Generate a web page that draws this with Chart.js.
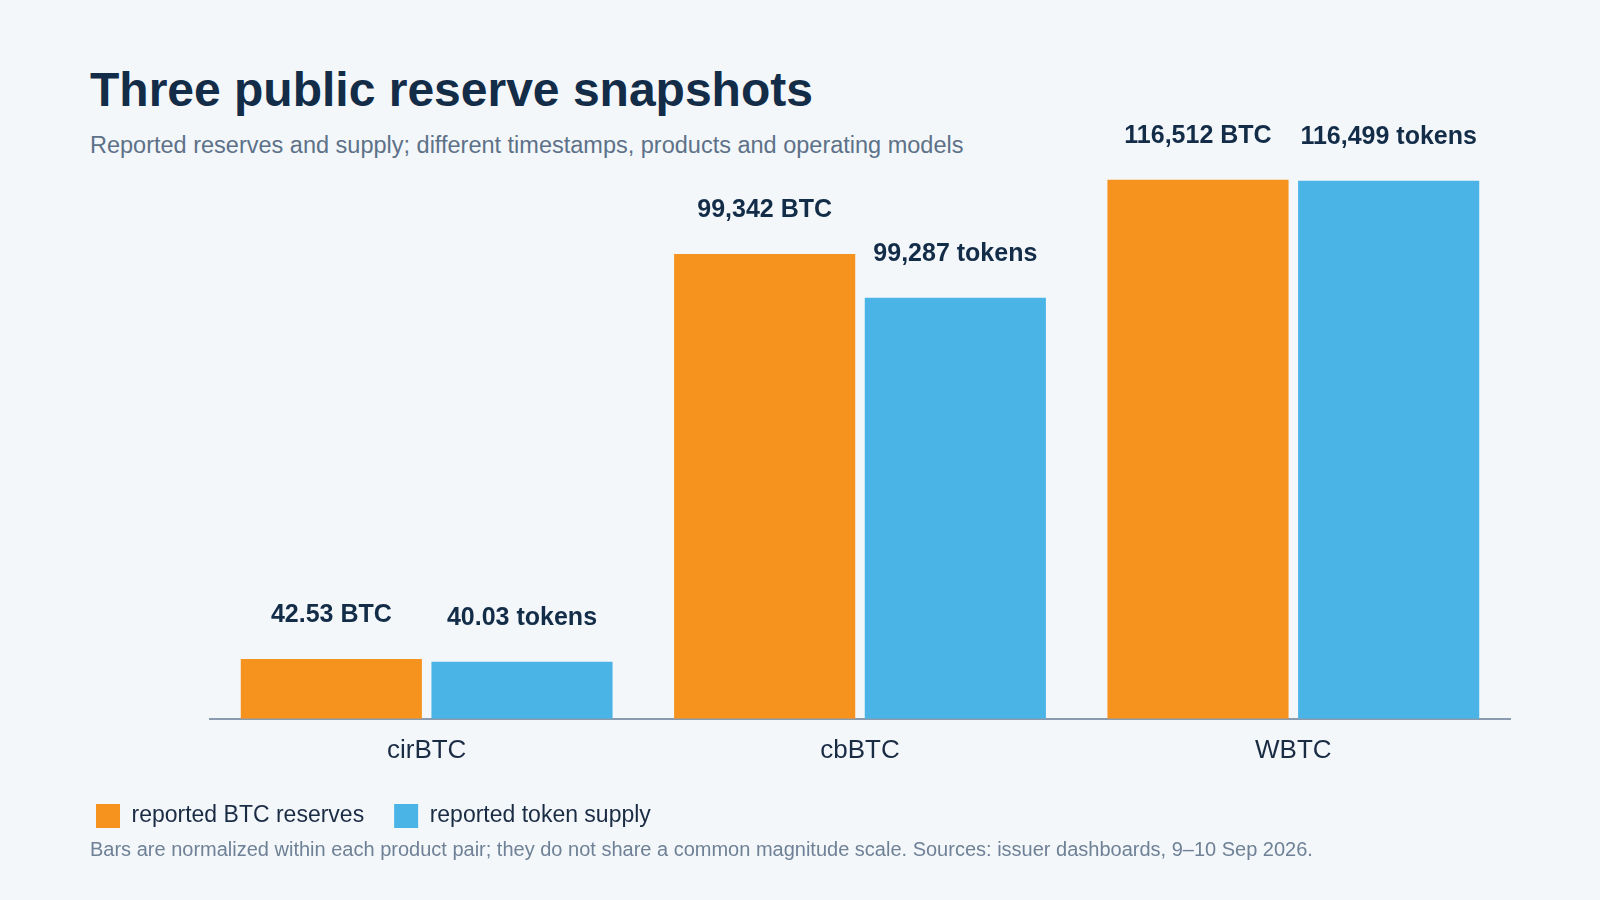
<!DOCTYPE html>
<html>
<head>
<meta charset="utf-8">
<script src="https://cdn.jsdelivr.net/npm/chart.js@4"></script>
<style>
  body { margin:0; background:#f3f7fa; font-family:"Liberation Sans", Arial, sans-serif; }
  #wrap { position:relative; width:1600px; height:900px; }
  h1 { position:absolute; left:90px; top:62px; margin:0; font-size:48px; font-weight:bold; color:#132c47; }
  .sub { position:absolute; left:90px; top:132px; font-size:23.5px; color:#5d7188; }
  .foot { position:absolute; left:90px; top:838px; font-size:20px; color:#6f8196; }
  canvas { position:absolute; left:0; top:0; }
</style>
</head>
<body>
<div id="wrap">
  <h1>Three public reserve snapshots</h1>
  <div class="sub">Reported reserves and supply; different timestamps, products and operating models</div>
  <canvas id="c" width="1600" height="900"></canvas>
  <div class="foot">Bars are normalized within each product pair; they do not share a common magnitude scale. Sources: issuer dashboards, 9–10 Sep 2026.</div>
</div>
<script>
var products = ["cirBTC", "cbBTC", "WBTC"];
// normalized bar heights (as drawn), percent of tallest bar
var reserveHeights = [11.1, 86.2, 100];
var supplyHeights = [10.6, 78.1, 99.8];
var reserveLabels = ["42.53 BTC", "99,342 BTC", "116,512 BTC"];
var supplyLabels = ["40.03 tokens", "99,287 tokens", "116,499 tokens"];

var valueLabels = {
    id: "valueLabels",
    afterDatasetsDraw: function(chart) {
        var ctx = chart.ctx;
        ctx.save();
        ctx.font = "bold 25px 'Liberation Sans', Arial, sans-serif";
        ctx.fillStyle = "#132c47";
        ctx.textAlign = "center";
        ctx.textBaseline = "middle";
        var texts = [reserveLabels, supplyLabels];
        chart.data.datasets.forEach(function(ds, i) {
            chart.getDatasetMeta(i).data.forEach(function(bar, j) {
                ctx.fillText(texts[i][j], bar.x, bar.y - 44);
            });
        });
        ctx.restore();
    }
};

new Chart(document.getElementById("c"), {
    type: "bar",
    data: {
        labels: products,
        datasets: [
            { label: "reported BTC reserves", data: reserveHeights, backgroundColor: "#f6931e" },
            { label: "reported token supply", data: supplyHeights, backgroundColor: "#4ab4e6" }
        ]
    },
    options: {
        responsive: false,
        animation: false,
        categoryPercentage: 0.88,
        barPercentage: 0.95,
        layout: { padding: { left: 66, right: 90, top: 150, bottom: 62 } },
        scales: {
            x: {
                grid: { display: false },
                border: { color: "#8a9bb0", width: 2 },
                ticks: { color: "#1a2b44", font: { size: 26, family: "'Liberation Sans', Arial" }, padding: 8 }
            },
            y: {
                min: 0, max: 105.5,
                grid: { display: false },
                border: { display: false },
                ticks: { display: false },
                afterFit: function(s) { s.width = 144; }
            }
        },
        plugins: {
            legend: {
                position: "bottom",
                align: "start",
                labels: {
                    boxWidth: 24, boxHeight: 24, padding: 30,
                    color: "#1a2b44",
                    font: { size: 23, family: "'Liberation Sans', Arial" }
                }
            },
            tooltip: { enabled: false }
        }
    },
    plugins: [valueLabels]
});
</script>
</body>
</html>
